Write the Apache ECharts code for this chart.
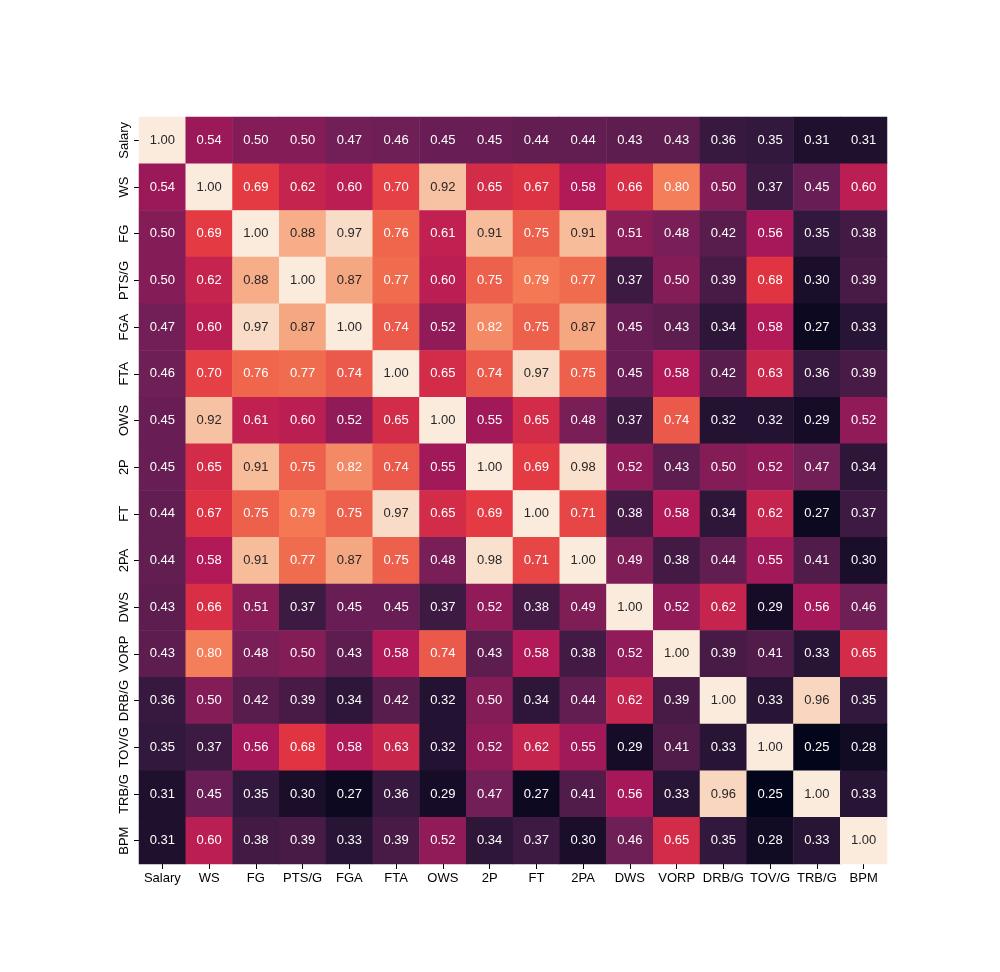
<!DOCTYPE html>
<html>
<head>
<meta charset="utf-8">
<script src="https://cdn.jsdelivr.net/npm/echarts@6/dist/echarts.min.js"></script>
<style>
  html, body { margin: 0; padding: 0; background: #fff; }
  #chart { width: 1000px; height: 972px; }
</style>
</head>
<body>
<div id="chart"></div>
<script>
// 变量名（行列相同）
const labels = ["Salary", "WS", "FG", "PTS/G", "FGA", "FTA", "OWS", "2P", "FT", "2PA", "DWS", "VORP", "DRB/G", "TOV/G", "TRB/G", "BPM"];

// 相关系数矩阵，每行一个数组
const rowSalary = [1.00, 0.54, 0.50, 0.50, 0.47, 0.46, 0.45, 0.45, 0.44, 0.44, 0.43, 0.43, 0.36, 0.35, 0.31, 0.31];
const rowWS     = [0.54, 1.00, 0.69, 0.62, 0.60, 0.70, 0.92, 0.65, 0.67, 0.58, 0.66, 0.80, 0.50, 0.37, 0.45, 0.60];
const rowFG     = [0.50, 0.69, 1.00, 0.88, 0.97, 0.76, 0.61, 0.91, 0.75, 0.91, 0.51, 0.48, 0.42, 0.56, 0.35, 0.38];
const rowPTS    = [0.50, 0.62, 0.88, 1.00, 0.87, 0.77, 0.60, 0.75, 0.79, 0.77, 0.37, 0.50, 0.39, 0.68, 0.30, 0.39];
const rowFGA    = [0.47, 0.60, 0.97, 0.87, 1.00, 0.74, 0.52, 0.82, 0.75, 0.87, 0.45, 0.43, 0.34, 0.58, 0.27, 0.33];
const rowFTA    = [0.46, 0.70, 0.76, 0.77, 0.74, 1.00, 0.65, 0.74, 0.97, 0.75, 0.45, 0.58, 0.42, 0.63, 0.36, 0.39];
const rowOWS    = [0.45, 0.92, 0.61, 0.60, 0.52, 0.65, 1.00, 0.55, 0.65, 0.48, 0.37, 0.74, 0.32, 0.32, 0.29, 0.52];
const row2P     = [0.45, 0.65, 0.91, 0.75, 0.82, 0.74, 0.55, 1.00, 0.69, 0.98, 0.52, 0.43, 0.50, 0.52, 0.47, 0.34];
const rowFT     = [0.44, 0.67, 0.75, 0.79, 0.75, 0.97, 0.65, 0.69, 1.00, 0.71, 0.38, 0.58, 0.34, 0.62, 0.27, 0.37];
const row2PA    = [0.44, 0.58, 0.91, 0.77, 0.87, 0.75, 0.48, 0.98, 0.71, 1.00, 0.49, 0.38, 0.44, 0.55, 0.41, 0.30];
const rowDWS    = [0.43, 0.66, 0.51, 0.37, 0.45, 0.45, 0.37, 0.52, 0.38, 0.49, 1.00, 0.52, 0.62, 0.29, 0.56, 0.46];
const rowVORP   = [0.43, 0.80, 0.48, 0.50, 0.43, 0.58, 0.74, 0.43, 0.58, 0.38, 0.52, 1.00, 0.39, 0.41, 0.33, 0.65];
const rowDRB    = [0.36, 0.50, 0.42, 0.39, 0.34, 0.42, 0.32, 0.50, 0.34, 0.44, 0.62, 0.39, 1.00, 0.33, 0.96, 0.35];
const rowTOV    = [0.35, 0.37, 0.56, 0.68, 0.58, 0.63, 0.32, 0.52, 0.62, 0.55, 0.29, 0.41, 0.33, 1.00, 0.25, 0.28];
const rowTRB    = [0.31, 0.45, 0.35, 0.30, 0.27, 0.36, 0.29, 0.47, 0.27, 0.41, 0.56, 0.33, 0.96, 0.25, 1.00, 0.33];
const rowBPM    = [0.31, 0.60, 0.38, 0.39, 0.33, 0.39, 0.52, 0.34, 0.37, 0.30, 0.46, 0.65, 0.35, 0.28, 0.33, 1.00];

const matrix = [rowSalary, rowWS, rowFG, rowPTS, rowFGA, rowFTA, rowOWS, row2P, rowFT, row2PA,
                rowDWS, rowVORP, rowDRB, rowTOV, rowTRB, rowBPM];

// rocket 色板
const rocket = ["#03051a", "#35193e", "#701f57", "#ad1759", "#e13342", "#f37651", "#f6b48f", "#faebdd"];

const FONT = "Liberation Sans, Arial, sans-serif";

// 组装热力图数据，浅色格子用深色文字
const data = [];
matrix.forEach((row, i) => {
  row.forEach((v, j) => {
    data.push({
      value: [j, i, v],
      label: { color: v >= 0.85 ? "#262626" : "#ffffff" }
    });
  });
});

const myChart = echarts.init(document.getElementById("chart"));
const option = {
  backgroundColor: "#ffffff",
  animation: false,
  grid: {
    left: 139,
    right: 113,
    top: 117,
    bottom: 108,
    containLabel: false
  },
  xAxis: {
    type: "category",
    data: labels,
    axisLine: { show: false },
    axisTick: { show: true, alignWithLabel: true, length: 5, lineStyle: { color: "#000", width: 1 } },
    axisLabel: { color: "#000", fontFamily: FONT, fontSize: 13, margin: 8, interval: 0 },
    splitLine: { show: false }
  },
  yAxis: {
    type: "category",
    data: labels,
    inverse: true,
    axisLine: { show: false },
    axisTick: { show: true, alignWithLabel: true, length: 5, lineStyle: { color: "#000", width: 1 } },
    axisLabel: { color: "#000", fontFamily: FONT, fontSize: 13, margin: 8, rotate: 90, interval: 0 },
    splitLine: { show: false }
  },
  visualMap: {
    show: false,
    type: "continuous",
    min: 0.25,
    max: 1.0,
    dimension: 2,
    inRange: { color: rocket }
  },
  series: [
    {
      type: "heatmap",
      data: data,
      label: {
        show: true,
        fontFamily: FONT,
        fontSize: 13,
        formatter: (p) => p.value[2].toFixed(2)
      },
      itemStyle: { borderWidth: 0 },
      emphasis: { disabled: true }
    }
  ]
};
myChart.setOption(option);
</script>
</body>
</html>
